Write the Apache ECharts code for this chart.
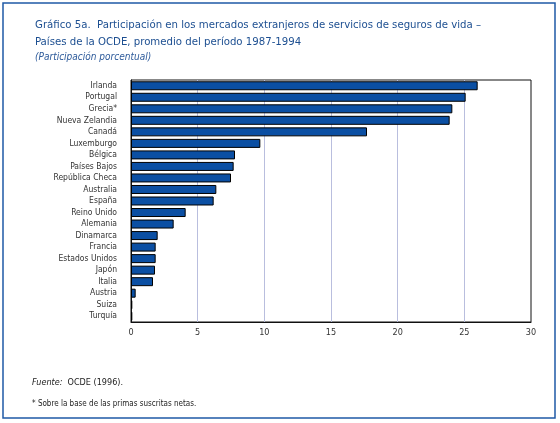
<!DOCTYPE html>
<html>
<head>
<meta charset="utf-8">
<script src="https://cdn.jsdelivr.net/npm/echarts@6/dist/echarts.min.js"></script>
<style>
  html, body { margin: 0; padding: 0; background: #fff; }
  #chart { width: 560px; height: 423px; }
</style>
</head>
<body>
<div id="chart"></div>
<script>
var countries = ['Irlanda', 'Portugal', 'Grecia*', 'Nueva Zelandia', 'Canadá', 'Luxemburgo',
    'Bélgica', 'Países Bajos', 'República Checa', 'Australia', 'España', 'Reino Unido',
    'Alemania', 'Dinamarca', 'Francia', 'Estados Unidos', 'Japón', 'Italia', 'Austria',
    'Suiza', 'Turquía'];
var shares = [26.0, 25.1, 24.1, 23.9, 17.7, 9.7, 7.8, 7.7, 7.5, 6.4, 6.2, 4.1,
    3.2, 2.0, 1.85, 1.85, 1.8, 1.65, 0.35, 0.1, 0.1];

var font = '"Liberation Sans Narrow", "DejaVu Sans Condensed", "Open Sans", sans-serif';

var myChart = echarts.init(document.getElementById('chart'));
myChart.setOption({
    animation: false,
    title: [
        {
            text: 'Gráfico 5a.  Participación en los mercados extranjeros de servicios de seguros de vida –\nPaíses de la OCDE, promedio del período 1987-1994',
            left: 30,
            top: 12,
            textStyle: {
                fontFamily: font,
                fontSize: 11.3,
                fontWeight: 'normal',
                color: '#1d4f91',
                lineHeight: 17
            }
        },
        {
            text: '(Participación porcentual)',
            left: 30,
            top: 47,
            textStyle: {
                fontFamily: font,
                fontSize: 10,
                fontStyle: 'italic',
                fontWeight: 'normal',
                color: '#2d5a9a'
            }
        }
    ],
    graphic: [
        {
            type: 'rect',
            shape: { x: 3, y: 3, width: 552, height: 415 },
            style: { fill: 'none', stroke: '#1f5aa6', lineWidth: 1.5 }
        },
        {
            type: 'text',
            left: 32,
            top: 378,
            style: {
                rich: {
                    i: { fontStyle: 'italic', fontFamily: font, fontSize: 9, fill: '#222' },
                    n: { fontFamily: font, fontSize: 9, fill: '#222' }
                },
                text: '{i|Fuente:}{n|  OCDE (1996).}'
            }
        },
        {
            type: 'text',
            left: 32,
            top: 400,
            style: {
                text: '* Sobre la base de las primas suscritas netas.',
                fontFamily: font,
                fontSize: 8,
                fill: '#222'
            }
        }
    ],
    grid: {
        left: 131,
        right: 29,
        top: 80,
        bottom: 101,
        show: true,
        borderColor: '#111',
        borderWidth: 1,
        backgroundColor: '#fff'
    },
    xAxis: {
        type: 'value',
        min: 0,
        max: 30,
        interval: 5,
        axisLine: { show: true, lineStyle: { color: '#111' } },
        axisTick: { show: false },
        axisLabel: { fontFamily: font, fontSize: 9, color: '#333', margin: 6 },
        splitLine: {
            show: true,
            showMinLine: false,
            showMaxLine: false,
            lineStyle: { color: '#b9bede', width: 1 }
        }
    },
    yAxis: {
        type: 'category',
        inverse: true,
        data: countries,
        axisLine: { show: true, lineStyle: { color: '#111' } },
        axisTick: { show: false },
        axisLabel: { interval: 0, fontFamily: font, fontSize: 8.5, color: '#333', margin: 14 }
    },
    series: [{
        type: 'bar',
        data: shares,
        barCategoryGap: '22%',
        itemStyle: {
            color: '#0b4fa3',
            borderColor: '#000',
            borderWidth: 1
        }
    }]
});
</script>
</body>
</html>
